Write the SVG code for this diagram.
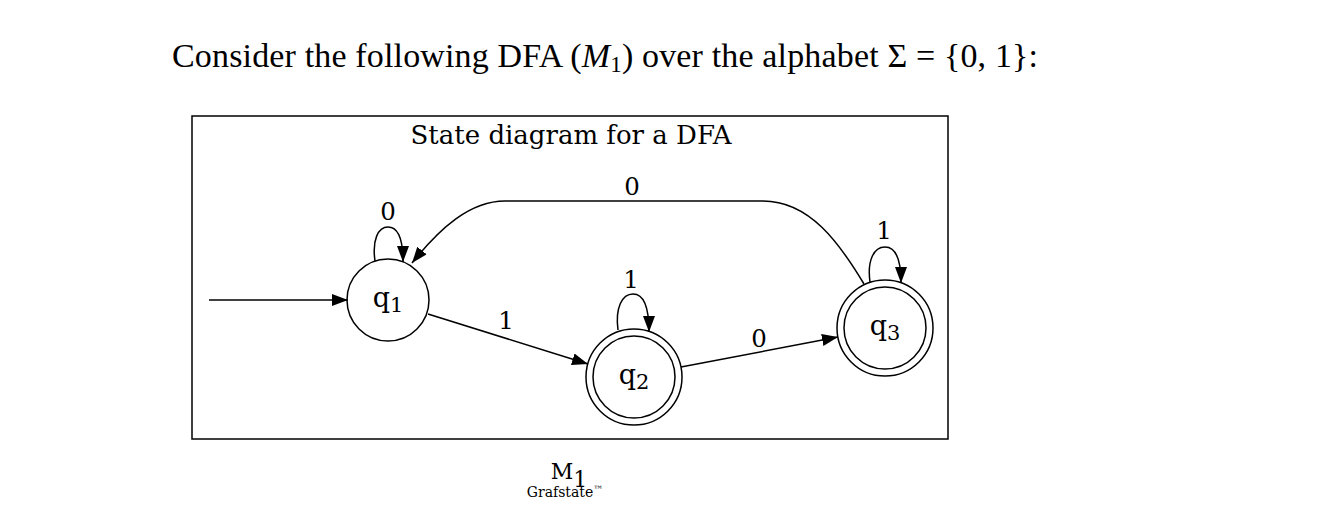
<svg xmlns="http://www.w3.org/2000/svg" width="1332" height="530" viewBox="0 0 1332 530">
<style>
.h{font-family:"Liberation Serif",serif;font-size:34px;fill:#000}
.l{font-family:"DejaVu Serif",serif;font-size:24.5px;fill:#000;text-anchor:middle}
.n{font-family:"DejaVu Serif",serif;font-size:27px;fill:#000;text-anchor:middle}
.s{fill:none;stroke:#000;stroke-width:1.5}
.e{fill:none;stroke:#000;stroke-width:1.5;marker-end:url(#ah)}
</style>
<defs>
<marker id="ah" viewBox="0 0 16 12" refX="16" refY="6" markerWidth="16" markerHeight="12" markerUnits="userSpaceOnUse" orient="auto">
<path d="M0,0 L16,6 L0,12 Z" fill="#000"/>
</marker>
</defs>
<rect width="1332" height="530" fill="#fff"/>
<text class="h" x="172" y="67" textLength="866" lengthAdjust="spacing">Consider the following DFA (<tspan style="font-style:italic">M</tspan><tspan style="font-size:23px" dy="5">1</tspan><tspan dy="-5">) over the alphabet Σ = {0, 1}:</tspan></text>
<rect x="192" y="116" width="756" height="323" class="s"/>
<text class="l" x="571" y="144" style="font-size:26px">State diagram for a DFA</text>
<g id="connectors">
<path class="e" d="M209,300 L348,300"/>
<path class="e" d="M428,314 L588,364"/>
<path class="e" d="M681,367 L838,337"/>
<path class="e" d="M864,284 C840,244 810,201 763,201 L505,201 C470,201 440,228 412,263"/>
<path class="e" d="M375,261 C372,240 378,227 388,227 C398,227 403,240 403,262"/>
<path class="e" d="M618,330 C615,308 622,294 633,294 C644,294 649,308 649,332"/>
<path class="e" d="M870,282 C867,260 874,247 885,247 C896,247 901,261 901,283"/>
<text class="l" x="388" y="220">0</text>
<text class="l" x="506" y="329">1</text>
<text class="l" x="759" y="347">0</text>
<text class="l" x="632" y="195">0</text>
<text class="l" x="631" y="288">1</text>
<text class="l" x="884" y="239">1</text>
</g>
<g id="q1">
<circle cx="388" cy="300" r="41" class="s"/>
<text class="n" x="388" y="307">q<tspan style="font-size:21px" dy="5">1</tspan></text>
</g>
<g id="q2">
<circle cx="634" cy="377" r="48" class="s"/>
<circle cx="634" cy="377" r="41" class="s"/>
<text class="n" x="634" y="384">q<tspan style="font-size:21px" dy="5">2</tspan></text>
</g>
<g id="q3">
<circle cx="885" cy="328" r="48" class="s"/>
<circle cx="885" cy="328" r="41" class="s"/>
<text class="n" x="885" y="335">q<tspan style="font-size:21px" dy="5">3</tspan></text>
</g>
<text class="n" x="569" y="479" style="font-size:22px">M<tspan dy="8">1</tspan></text>
<text class="l" x="565" y="497" style="font-size:14px">Grafstate<tspan style="font-size:10px" dy="-4">™</tspan></text>
</svg>
